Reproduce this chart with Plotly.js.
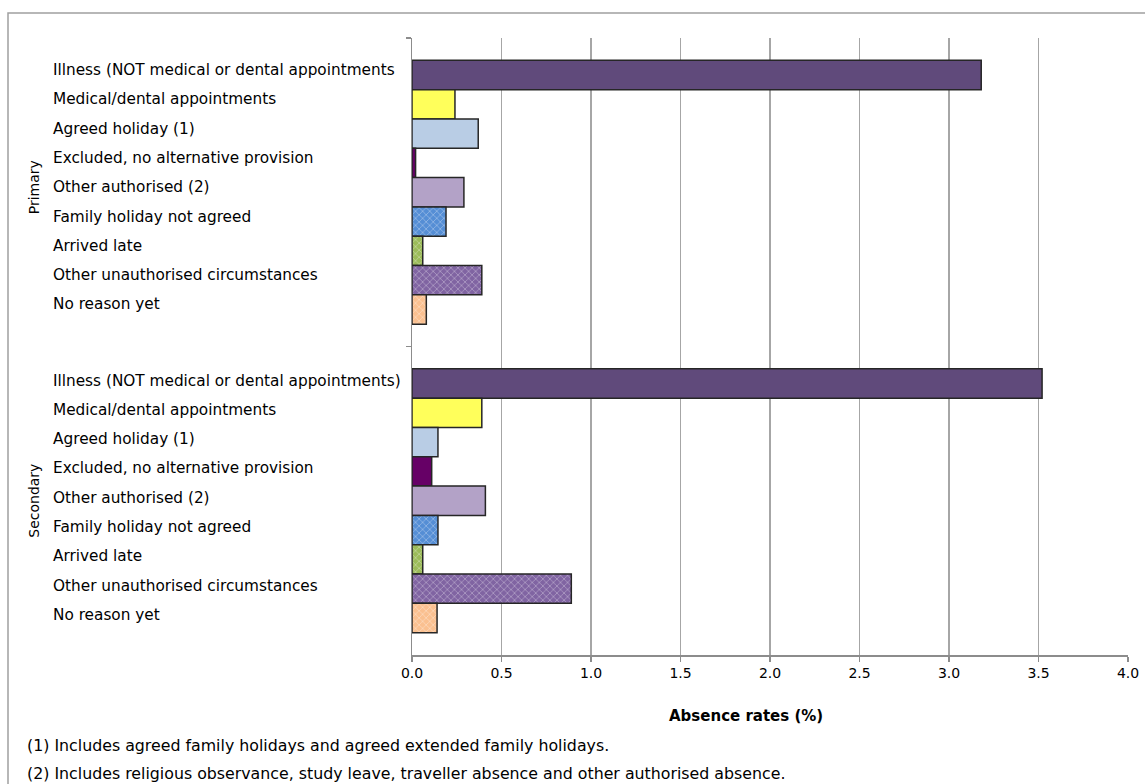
<!DOCTYPE html>
<html>
<head>
<meta charset="utf-8">
<script src="https://cdn.plot.ly/plotly-3.0.1.min.js"></script>
<style>
  html, body { margin: 0; padding: 0; background: #ffffff; }
  #chart { width: 1145px; height: 784px; }
</style>
</head>
<body>
<div id="chart"></div>
<script>
// ---- data ----
const phases = ['Primary', 'Secondary'];
const reasons = [
  'Illness (NOT medical or dental appointments)',
  'Medical/dental appointments',
  'Agreed holiday (1)',
  'Excluded, no alternative provision',
  'Other authorised (2)',
  'Family holiday not agreed',
  'Arrived late',
  'Other unauthorised circumstances',
  'No reason yet'
];
const primaryLabels = [
  'Illness (NOT medical or dental appointments',
  'Medical/dental appointments',
  'Agreed holiday (1)',
  'Excluded, no alternative provision',
  'Other authorised (2)',
  'Family holiday not agreed',
  'Arrived late',
  'Other unauthorised circumstances',
  'No reason yet'
];
const secondaryLabels = [
  'Illness (NOT medical or dental appointments)',
  'Medical/dental appointments',
  'Agreed holiday (1)',
  'Excluded, no alternative provision',
  'Other authorised (2)',
  'Family holiday not agreed',
  'Arrived late',
  'Other unauthorised circumstances',
  'No reason yet'
];
const primaryValues   = [3.18, 0.24, 0.37, 0.02, 0.29, 0.19, 0.06, 0.39, 0.08];
const secondaryValues = [3.52, 0.39, 0.145, 0.11, 0.41, 0.145, 0.06, 0.89, 0.14];
const xTickValues = [0, 0.5, 1, 1.5, 2, 2.5, 3, 3.5, 4];
const xTitle = 'Absence rates (%)';
const footnotes = [
  '(1) Includes agreed family holidays and agreed extended family holidays.',
  '(2) Includes religious observance, study leave, traveller absence and other authorised absence.'
];

// ---- styles ----
const colors = ['#604a7b', '#ffff5b', '#b9cde5', '#660066', '#b3a2c7', '#558ed5', '#9bbb59', '#8064a2', '#fac090'];
const patterned = [false, false, false, false, false, true, true, true, true];
const FONT = 'DejaVu Sans, Open Sans, sans-serif';
const bargap = 0.145;

const traces = reasons.map((r, i) => ({
  type: 'bar',
  orientation: 'h',
  name: r,
  y: phases,
  x: [primaryValues[i], secondaryValues[i]],
  marker: {
    color: colors[i],
    line: { color: '#262626', width: 1.5 },
    pattern: patterned[i]
      ? { shape: 'x', fgcolor: '#ffffff', bgcolor: colors[i], size: 5, solidity: 0.22, fillmode: 'overlay' }
      : { shape: '' }
  },
  hoverinfo: 'x+name'
}));

const annotations = [];
const n = reasons.length;
const w = 1 - bargap;
[primaryLabels, secondaryLabels].forEach((labels, g) => {
  labels.forEach((lab, i) => {
    annotations.push({
      xref: 'paper', yref: 'y',
      x: (51 - 412) / 716, y: g - w / 2 + (i + 0.5) * w / n,
      xanchor: 'left', yanchor: 'middle',
      yshift: g === 0 ? 5 : 3,
      text: lab, showarrow: false,
      font: { family: FONT, size: 15.3, color: '#000000' }
    });
  });
  annotations.push({
    xref: 'paper', yref: 'y',
    x: (34 - 412) / 716, y: g, xanchor: 'center', yanchor: 'middle',
    yshift: g === 0 ? 5 : 0,
    text: phases[g], textangle: -90, showarrow: false,
    font: { family: FONT, size: 14, color: '#000000' }
  });
});
annotations.push({
  xref: 'paper', yref: 'paper', x: (746 - 412) / 716, y: 1 - (716 - 38) / 617,
  xanchor: 'center', yanchor: 'middle', showarrow: false,
  text: '<b>' + xTitle + '</b>', font: { family: FONT, size: 15, color: '#000000' }
});
footnotes.forEach((t, k) => {
  annotations.push({
    xref: 'paper', yref: 'paper', x: (25 - 412) / 716, y: 1 - ((746 + 27 * k) - 38) / 617,
    xanchor: 'left', yanchor: 'middle', showarrow: false,
    text: t, font: { family: FONT, size: 15.8, color: '#000000' }
  });
});

const layout = {
  width: 1145, height: 784,
  margin: { l: 412, r: 17, t: 38, b: 129 },
  paper_bgcolor: '#ffffff', plot_bgcolor: '#ffffff',
  showlegend: false,
  barmode: 'group',
  bargap: bargap,
  bargroupgap: 0,
  xaxis: {
    range: [0, 4], tickvals: xTickValues, tickformat: '.1f',
    showgrid: true, gridcolor: '#a6a6a6', gridwidth: 1.5,
    zeroline: false, showline: true, linecolor: '#8c8c8c', linewidth: 1.5,
    ticks: 'outside', ticklen: 5, tickcolor: '#8c8c8c', tickwidth: 1.5,
    tickfont: { family: FONT, size: 14, color: '#000000' }, fixedrange: true
  },
  yaxis: {
    type: 'category', autorange: 'reversed',
    showticklabels: false, tickson: 'boundaries',
    ticks: 'outside', ticklen: 5, tickcolor: '#8c8c8c', tickwidth: 1.5,
    showline: true, linecolor: '#8c8c8c', linewidth: 1.5,
    showgrid: false, zeroline: false, fixedrange: true
  },
  annotations: annotations,
  shapes: [{
    type: 'rect', xref: 'paper', yref: 'paper', layer: 'below',
    x0: (8 - 412) / 716, x1: (1160 - 412) / 716,
    y0: 1 - (800 - 38) / 617, y1: 1 - (13 - 38) / 617,
    line: { color: '#a0a0a0', width: 1.5 }, fillcolor: 'rgba(0,0,0,0)'
  }]
};

Plotly.newPlot('chart', traces, layout, { displayModeBar: false, staticPlot: true });
</script>
</body>
</html>
